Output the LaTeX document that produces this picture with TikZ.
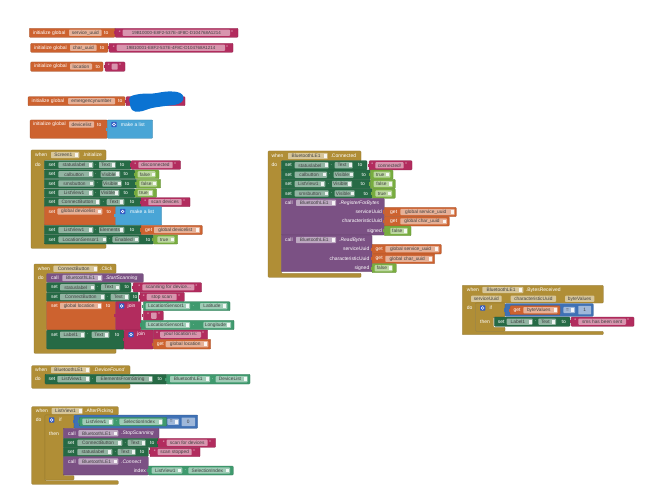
\documentclass[tikz,border=0pt]{standalone}
\usepackage{fontspec}
\setmainfont{Liberation Sans}
\definecolor{vo}{HTML}{CD622F}
\definecolor{pk}{HTML}{B22C5E}
\definecolor{gn}{HTML}{266A45}
\definecolor{lg}{HTML}{3F9A6E}
\definecolor{bo}{HTML}{78AD3F}
\definecolor{gd}{HTML}{B08E36}
\definecolor{pu}{HTML}{7B5184}
\definecolor{lb}{HTML}{49A5D6}
\definecolor{mb}{HTML}{3F71B5}
\definecolor{bb}{HTML}{0B73D2}
\newcounter{nn}
\tikzset{
 blk/.style={fill=#1,draw=#1!78!black,line width=.25pt,rounded corners=.8pt},
 lbt/.style={text=white,font=\fontsize{5}{6}\selectfont,inner sep=0pt,anchor=west},
 lbr/.style={text=white,font=\fontsize{5}{6}\selectfont,inner sep=0pt,anchor=east},
 fldtext/.style={text=black!75,font=\fontsize{4.8}{6}\selectfont,inner sep=0pt},
 fld/.style={fldtext,fill=white,fill opacity=.5,text opacity=1,rounded corners=.8pt,minimum height=6.2pt},
}
\newcommand{\Bk}[5]{\path[blk=#1] (#2,#3) rectangle (#4,#5);\path[fill=#1] (#2-1.4,{(#3+#5)/2-1.6}) rectangle (#2,{(#3+#5)/2+1.6});}
\newcommand{\Sb}[5]{\path[blk=#1] (#2,#3) rectangle (#4,#5);}
\newcommand{\Lb}[3]{\stepcounter{nn}\node[lbt] (n\arabic{nn}) at (#1,#2) {#3};}
\newcommand{\Lr}[3]{\stepcounter{nn}\node[lbr] (n\arabic{nn}) at (#1,#2) {#3};}
\newcommand{\Fd}[4]{\stepcounter{nn}\pgfmathsetmacro{\myw}{#2-#1}\pgfmathsetmacro{\myc}{(#1+#2)/2}\node[fld,minimum width=\myw pt] (n\arabic{nn}) at (\myc,#3) {#4};}
\newcommand{\Fdd}[4]{\stepcounter{nn}\fill[white,opacity=.5,rounded corners=.8pt] (#1,#3-3.1) rectangle (#2,#3+3.1);
 \fill[white,opacity=.85] (#2-4,#3-1.8) rectangle (#2-1,#3+1.8);
 \pgfmathsetmacro{\myc}{(#1+#2-3.5)/2}\node[fldtext] (n\arabic{nn}) at (\myc,#3) {#4};}
% string block: x1 x2 y1 y2 fx1 fx2 text
\newcommand{\Qs}[7]{\Bk{pk}{#1}{#3}{#2}{#4}\pgfmathsetmacro{\mym}{(#3+#4)/2}
 \Lb{#5-4}{\mym-.5}{“}\Lb{#6+1.2}{\mym-.5}{”}\Fd{#5}{#6}{\mym}{#7}}
% boolean: x1 x2 y1 y2 fx1 fx2 text
\newcommand{\Bl}[7]{\Bk{bo}{#1}{#3}{#2}{#4}\pgfmathsetmacro{\mym}{(#3+#4)/2}\Fdd{#5}{#6}{\mym}{#7}}
% getter variable: x1 x2 y1 y2 getx fx1 fx2 text
\newcommand{\Gv}[8]{\Bk{vo}{#1}{#3}{#2}{#4}\pgfmathsetmacro{\mym}{(#3+#4)/2}\Lb{#5}{\mym}{get}\Fdd{#6}{#7}{\mym}{#8}}
\newcommand{\Mt}[2]{\fill[mb!80!blue,rounded corners=.6pt] (#1-2.6,#2-2.6) rectangle (#1+2.6,#2+2.6);\draw[white,line width=.5pt] (#1,#2) circle (1.4);}
% event C shape: x1 y1 xin yh yb x2 y2
\newcommand{\Ev}[7]{\path[blk=gd] (#1,#2) -- (#6,#2) -- (#6,#4) -- (#3,#4) -- (#3,#5) -- (#6,#5) -- (#6,#7) -- (#1,#7) -- cycle;}
\begin{document}
\begin{tikzpicture}[x=1pt,y=-1pt]
\useasboundingbox (0,0) rectangle (659,500);
\fill[white] (0,0) rectangle (659,500);
% ---- globals
\Sb{vo}{29.3}{28.3}{115}{37.3}\Lb{32.7}{32.8}{initialize global}\Fd{69}{101.7}{32.8}{service\_uuid}\Lb{104}{32.8}{to}
\Qs{115}{238}{28.3}{37.3}{122.7}{230}{\fontsize{4.45}{6}\selectfont 19B10000-E8F2-537E-4F8C-D104768A1214}
\Sb{vo}{30.7}{43.3}{108}{52.3}\Lb{34}{47.8}{initialize global}\Fd{70}{96.7}{47.8}{char\_uuid}\Lb{100}{47.8}{to}
\Qs{109}{233}{43.3}{52.3}{116.7}{225}{\fontsize{4.45}{6}\selectfont 19B10001-E8F2-537E-4F8C-D104768A1214}
\Sb{vo}{30.7}{62}{103}{71.3}\Lb{34}{66.6}{initialize global}\Fd{70}{92}{66.6}{location}\Lb{95.5}{66.6}{to}
\Qs{105}{125}{62}{71.3}{111.7}{117.7}{}
\Sb{vo}{28}{96.7}{125}{105.7}\Lb{31.5}{101.2}{initialize global}\Fd{68}{115}{101.2}{emergencynumber}\Lb{118}{101.2}{to}
\Bk{pk}{126}{96.7}{185}{105.7}
\fill[bb] plot[smooth cycle,tension=.7] coordinates {(130,97) (140,94) (153,93.5) (168,91.5) (180,93) (183.5,99) (178,104) (165,106) (152,108) (140,111.5) (132,110) (130,103)};
\Sb{vo}{30}{120}{107.3}{138.3}\Lb{33}{124.5}{initialize global}\Fd{69}{94}{124.5}{devicelist}\Lb{97}{124.5}{to}
\Bk{lb}{107.3}{120}{152.7}{138.3}\Mt{114}{124.5}\Lb{120.7}{124.5}{make a list}
% ---- Screen1.Initialize
\Ev{31}{150}{44.3}{160}{244}{106}{248.3}
\Lb{35}{155}{when}\Fdd{51}{79.3}{155}{Screen1}\Lb{82.3}{155}{.Initialize}\Lb{35}{164.6}{do}
\Sb{gn}{44.3}{160.7}{131}{169.3}\Lb{48.3}{165}{set}\Fdd{58.3}{93.3}{165}{statuslabel}\Lb{94.7}{165}{.}\Fdd{99}{115.7}{165}{Text}\Lb{120}{165}{to}
\Qs{131}{180.7}{160.7}{169.3}{138.3}{172.7}{disconnected}
\Sb{gn}{44.3}{170}{135}{178.7}\Lb{48.3}{174.3}{set}\Fdd{58.3}{93.3}{174.3}{calbutton}\Lb{95}{174.3}{.}\Fdd{100.7}{120}{174.3}{Visible}\Lb{123.5}{174.3}{to}
\Bl{135}{159}{170}{178.7}{137.7}{155.5}{false}
\Sb{gn}{44.3}{179.3}{136.7}{188}\Lb{48.3}{183.6}{set}\Fdd{58.3}{94.3}{183.6}{smsbutton}\Lb{96.5}{183.6}{.}\Fdd{102.3}{121.7}{183.6}{Visible}\Lb{125}{183.6}{to}
\Bl{136.7}{160.7}{179.3}{188}{139.3}{157}{false}
\Sb{gn}{44.3}{188.7}{135}{197.3}\Lb{48.3}{193}{set}\Fdd{58.3}{93.3}{193}{ListView1}\Lb{95}{193}{.}\Fdd{100}{119.3}{193}{Visible}\Lb{123.5}{193}{to}
\Bl{135}{156.7}{188.7}{197.3}{137.7}{153}{true}
\Sb{gn}{44.3}{197.6}{141}{206.7}\Lb{48.3}{202.1}{set}\Fdd{58.3}{100}{202.1}{ConnectButton}\Lb{102.5}{202.1}{.}\Fdd{106.7}{124.3}{202.1}{Text}\Lb{130}{202.1}{to}
\Qs{141}{190}{197.6}{206.7}{148.3}{181.7}{scan devices}
\Sb{vo}{44.3}{206.7}{115.7}{225}\Lb{48.3}{211.5}{set}\Fdd{57.3}{102.3}{211.5}{global devicelist}\Lb{106.5}{211.5}{to}
\Bk{lb}{115.7}{206.7}{161.7}{225}\Mt{122.7}{211.5}\Lb{130}{211.5}{make a list}
\Sb{gn}{44.3}{225.3}{141}{234.7}\Lb{48.3}{230}{set}\Fdd{58.3}{93.3}{230}{ListView1}\Lb{95}{230}{.}\Fdd{99}{124.3}{230}{Elements}\Lb{130}{230}{to}
\Gv{141}{202.3}{225.3}{234.7}{145}{154}{200}{global devicelist}
\Sb{gn}{44.3}{235}{153.3}{244}\Lb{48.3}{239.5}{set}\Fdd{58.3}{106.7}{239.5}{LocationSensor1}\Lb{108.7}{239.5}{.}\Fdd{112.3}{139}{239.5}{Enabled}\Lb{146}{239.5}{to}
\Bl{153.3}{177.7}{235}{244}{157.3}{174.5}{true}
% ---- ConnectButton.Click
\Ev{34}{264}{46.7}{273.3}{348.3}{116}{353.3}
\Lb{37.7}{268.8}{when}\Fdd{53.3}{97.7}{268.8}{ConnectButton}\Lb{100}{268.8}{.Click}\Lb{38}{277.9}{do}
\Sb{pu}{46.7}{273.7}{143.3}{282.3}\Lb{51}{278}{call}\Fdd{62.3}{102.3}{278}{BluetoothLE1}\Lb{104.5}{278}{\itshape .StartScanning}
\Sb{gn}{46.7}{282.7}{131}{292}\Lb{51}{287.3}{set}\Fdd{60}{95}{287.3}{statuslabel}\Lb{97}{287.3}{.}\Fdd{101}{120}{287.3}{Text}\Lb{124.5}{287.3}{to}
\Qs{133}{201.7}{282.7}{292}{142.3}{194.3}{scanning for device...}
\Sb{gn}{46.7}{292.3}{138}{301.7}\Lb{51}{297}{set}\Fdd{60}{105}{297}{ConnectButton}\Lb{107}{297}{.}\Fdd{110.7}{129.3}{297}{Text}\Lb{133}{297}{to}
\Qs{140}{184.3}{292.3}{301.7}{146.7}{176.7}{stop scan}
\Sb{vo}{46.7}{301.7}{115.7}{330}\Lb{51}{306}{set}\Fdd{60}{101.7}{306}{global location}\Lb{106}{306}{to}
\Bk{pk}{115.7}{301.7}{141}{330}\Mt{121.7}{306}\Lb{127.5}{306}{join}
\Bk{lg}{143.3}{301.7}{230}{310.7}\Fdd{145.7}{190}{306.2}{LocationSensor1}\Lb{192.5}{306.2}{.}\Fdd{200}{227.3}{306.2}{Latitude}
\Qs{143.3}{163.3}{311}{320.3}{151}{156.7}{}
\Bk{lg}{141}{320.3}{234}{329.7}\Fdd{145.7}{190}{325}{LocationSensor1}\Lb{193}{325}{.}\Fdd{203.3}{231}{325}{Longitude}
\Sb{gn}{46.7}{330}{124}{349}\Lb{51}{334.7}{set}\Fdd{60}{85}{334.7}{Label1}\Lb{87}{334.7}{.}\Fdd{91.7}{109.3}{334.7}{Text}\Lb{115}{334.7}{to}
\Bk{pk}{124}{330}{153.3}{349}\Mt{131}{334.7}\Lb{137}{334.7}{join}
\Qs{153.3}{207.7}{330}{339.3}{160}{201}{your location is:}
\Gv{153.3}{210.7}{339.3}{349}{156.7}{165.7}{208.3}{global location}
% ---- DeviceFound
\Ev{31.7}{365.7}{45}{374.3}{384}{130}{388.3}
\Lb{35}{370}{when}\Fdd{51}{90}{370}{BluetoothLE1}\Lb{93.3}{370}{\itshape .DeviceFound}\Lb{35}{379}{do}
\Sb{gn}{45}{374.3}{166.7}{384}\Lb{48.3}{379.2}{set}\Fdd{57.3}{90}{379.2}{ListView1}\Lb{92}{379.2}{.}\Fdd{96}{152.7}{379.2}{ElementsFromString}\Lb{157.5}{379.2}{to}
\Bk{lg}{166.7}{374.3}{250}{384}\Fdd{170}{210}{379.2}{BluetoothLE1}\Lb{212}{379.2}{.}\Fdd{215.7}{247.7}{379.2}{DeviceList}
% ---- ListView1.AfterPicking
\Ev{31.7}{406.7}{45}{415}{480.7}{118.3}{484.3}
\Lb{35.7}{410.9}{when}\Fdd{51.7}{82.7}{410.9}{ListView1}\Lb{85}{410.9}{.AfterPicking}\Lb{35.7}{420}{do}
\path[blk=gd] (45,415) -- (74,415) -- (74,428.3) -- (63.3,428.3) -- (63.3,475.5) -- (74,475.5) -- (74,480) -- (45,480) -- cycle;
\Mt{51.7}{420}\Lb{59}{420}{if}\Lb{49}{433.3}{then}
\Bk{mb}{74}{415}{197.7}{428.3}
\Bk{lg}{79.3}{417.3}{166.7}{426}\Fdd{82.3}{113.3}{421.7}{ListView1}\Lb{115.5}{421.7}{.}\Fdd{119.3}{162.7}{421.7}{SelectionIndex}
\Fdd{167.3}{179}{421.7}{=}
\fill[white,opacity=.5,rounded corners=.5pt] (181.7,417.5) rectangle (195,426);
\stepcounter{nn}\node[fldtext] (n\arabic{nn}) at (188.3,421.7) {0};
\Sb{pu}{63.3}{428.3}{159}{438.3}\Lb{68}{433.3}{call}\Fdd{78.3}{118.3}{433.3}{BluetoothLE1}\Lb{121}{433.3}{\itshape .StopScanning}
\Sb{gn}{63.3}{438.3}{158}{447.3}\Lb{67.5}{442.8}{set}\Fdd{77.3}{122.3}{442.8}{ConnectButton}\Lb{124.5}{442.8}{.}\Fdd{127.7}{145.7}{442.8}{Text}\Lb{150}{442.8}{to}
\Qs{158}{215.7}{438.3}{447.3}{166.7}{207.7}{scan for devices}
\Sb{gn}{63.3}{447.3}{148.3}{456.7}\Lb{67.5}{452}{set}\Fdd{77.3}{112.3}{452}{statuslabel}\Lb{114.5}{452}{.}\Fdd{117.7}{135.7}{452}{Text}\Lb{140}{452}{to}
\Qs{150}{200}{447.3}{456.7}{157.7}{191.7}{scan stopped}
\Sb{pu}{63.3}{456.7}{148.3}{475}\Lb{68}{461.5}{call}\Fdd{78.3}{118.3}{461.5}{BluetoothLE1}\Lb{121}{461.5}{\itshape .Connect}\Lr{146}{470.8}{index}
\Bk{lg}{148.3}{466}{233.3}{475}\Fdd{151.7}{182.3}{470.5}{ListView1}\Lb{184.5}{470.5}{.}\Fdd{188.3}{230}{470.5}{SelectionIndex}
% ---- BluetoothLE1.Connected
\Ev{268}{151}{281.3}{160.7}{273.3}{361}{277.3}
\Lb{271.3}{156}{when}\Fdd{288}{327.7}{156}{BluetoothLE1}\Lb{330.3}{156}{.Connected}\Lb{271.5}{165}{do}
\Sb{gn}{281.3}{160.7}{367}{170}\Lb{285}{165.3}{set}\Fdd{294.7}{328.7}{165.3}{statuslabel}\Lb{330.5}{165.3}{.}\Fdd{334.7}{352.7}{165.3}{Text}\Lb{358}{165.3}{to}
\Qs{369}{412}{160.7}{170}{375.3}{403.7}{connected!}
\Sb{gn}{281.3}{170}{370.3}{179.3}\Lb{285}{174.7}{set}\Fdd{294.7}{327}{174.7}{calbutton}\Lb{329}{174.7}{.}\Fdd{333.7}{353.7}{174.7}{Visible}\Lb{361.5}{174.7}{to}
\Bl{370.3}{393}{170}{179.3}{373.7}{390.3}{true}
\Sb{gn}{281.3}{179.3}{370.3}{188.7}\Lb{285}{184}{set}\Fdd{294.7}{325.3}{184}{ListView1}\Lb{327.5}{184}{.}\Fdd{332}{352}{184}{Visible}\Lb{360.5}{184}{to}
\Bl{370.3}{395.3}{179.3}{188.7}{373.7}{392.7}{false}
\Sb{gn}{281.3}{188.7}{372}{198.3}\Lb{285}{193.5}{set}\Fdd{294.7}{328.7}{193.5}{smsbutton}\Lb{330.7}{193.5}{.}\Fdd{334.7}{354.7}{193.5}{Visible}\Lb{363.5}{193.5}{to}
\Bl{372}{395.3}{188.7}{198.3}{375.3}{392}{true}
\Sb{pu}{281.3}{198.3}{384.3}{235}\Lb{285}{202.8}{call}\Fdd{296}{336}{202.8}{BluetoothLE1}\Lb{339}{202.8}{\itshape .RegisterForBytes}
\Lr{382}{211.9}{serviceUuid}\Lr{382}{221.2}{characteristicUuid}\Lr{382}{231}{signed}
\Gv{384.3}{456.3}{207.3}{216.7}{390}{400.3}{454.7}{global service\_uuid}
\Gv{384.3}{449.3}{216.7}{226}{390}{400.3}{447}{global char\_uuid}
\Bl{384.3}{411}{226}{235.7}{390.3}{407.7}{false}
\draw[white,opacity=.5,line width=.3pt] (281.3,235) -- (372,235);
\Sb{pu}{281.3}{235}{372}{271.7}\Lb{285}{240}{call}\Fdd{296}{336}{240}{BluetoothLE1}\Lb{339}{240}{\itshape .ReadBytes}
\Lr{369.5}{249.2}{serviceUuid}\Lr{369.5}{259}{characteristicUuid}\Lr{369.5}{268}{signed}
\Gv{372}{441.3}{244.3}{254}{375.5}{385.3}{439.3}{global service\_uuid}
\Gv{372}{434.7}{254}{263.7}{375.5}{385.3}{432.7}{global char\_uuid}
\Bl{372}{396.3}{263.7}{272.7}{374.7}{392.7}{false}
% ---- BluetoothLE1.BytesReceived
\path[blk=gd] (462.3,285.3) -- (603.3,285.3) -- (603.3,303) -- (475.7,303) -- (475.7,331.3) -- (603.3,331.3) -- (603.3,334.7) -- (462.3,334.7) -- cycle;
\Lb{466.7}{289.9}{when}\Fdd{482.3}{523.3}{289.9}{BluetoothLE1}\Lb{525.7}{289.9}{.BytesReceived}
\Fd{471}{501.7}{298.8}{serviceUuid}\Fd{510.7}{556}{298.8}{characteristicUuid}\Fd{565}{594.3}{298.8}{byteValues}
\Lb{466.7}{308}{do}
\path[blk=gd] (475.7,303) -- (505,303) -- (505,317) -- (493.3,317) -- (493.3,327.3) -- (505,327.3) -- (505,331.3) -- (475.7,331.3) -- cycle;
\Mt{482.7}{308}\Lb{489.3}{308}{if}\Lb{480}{321.5}{then}
\Bk{mb}{505}{303.7}{593.3}{316.3}
\Gv{510}{560}{305.7}{314.7}{513.3}{523.3}{557.7}{byteValues}
\Fdd{563.3}{575}{310}{=}
\fill[white,opacity=.5,rounded corners=.5pt] (578.3,305.8) rectangle (591,314.4);
\stepcounter{nn}\node[fldtext] (n\arabic{nn}) at (584.6,310) {1};
\Sb{gn}{494.3}{317}{570}{326.3}\Lb{497.7}{321.7}{set}\Fdd{506.7}{532.7}{321.7}{Label1}\Lb{534.7}{321.7}{.}\Fdd{538.3}{556}{321.7}{Text}\Lb{561.5}{321.7}{to}
\Qs{571}{634}{317}{326.3}{578.3}{626}{sms has been sent}
\end{tikzpicture}
\end{document}
